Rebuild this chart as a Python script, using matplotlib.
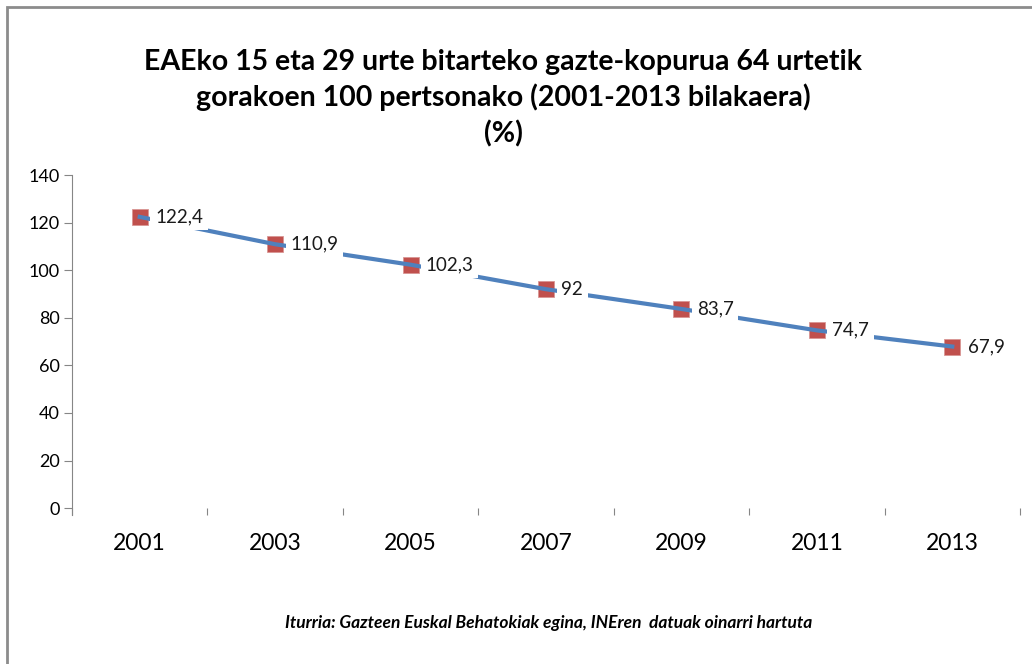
import matplotlib.pyplot as plt
from matplotlib.patches import Rectangle

urteak = ['2001', '2003', '2005', '2007', '2009', '2011', '2013']
balioak = [122.4, 110.9, 102.3, 92, 83.7, 74.7, 67.9]
etiketak = ['122,4', '110,9', '102,3', '92', '83,7', '74,7', '67,9']

plt.rcParams['font.family'] = ['Lato', 'DejaVu Sans']

fig = plt.figure(figsize=(10.32, 6.64), dpi=100)
fig.patch.set_facecolor('white')

# marco gris del grafico
fig.add_artist(Rectangle((7/1032, -0.1), 1.2, (664 - 7)/664 + 0.1, transform=fig.transFigure,
                         fill=False, edgecolor='#8c8c8c', linewidth=2))

W, H = 1032, 664
ax = fig.add_axes([72/W, 1 - 515/H, (1020 - 72)/W, (515 - 175)/H])

x = list(range(len(urteak)))
ax.plot(x, balioak, color='#4f81bd', linewidth=3, zorder=3)
ax.plot(x, balioak, linestyle='none', marker='s', markersize=11.5,
        markerfacecolor='#c0504d', markeredgecolor='#d99694', markeredgewidth=0.6, zorder=2)

for xi, yi, t in zip(x, balioak, etiketak):
    ax.annotate(t, (xi, yi), xytext=(11, 0), textcoords='offset points',
                va='center', ha='left', fontsize=13.5, color='#1a1a1a', zorder=4,
                bbox=dict(boxstyle='square,pad=0.25', facecolor='white', edgecolor='none'))

ax.set_xlim(-0.5, len(urteak) - 0.5)
ax.set_ylim(-2.9, 140)
ax.set_yticks(range(0, 141, 20))
ax.set_xticks([i + 0.5 for i in range(-1, len(urteak))])
ax.set_xticklabels([])
ax.set_xticks(x, minor=True)
ax.set_xticklabels(urteak, minor=True)

for s in ['top', 'right', 'bottom']:
    ax.spines[s].set_visible(False)
ax.spines['left'].set_color('#868686')
ax.spines['left'].set_bounds(-2.9, 140)

ax.tick_params(axis='y', direction='out', length=6, color='#868686', labelsize=13, pad=3)
ax.tick_params(axis='x', which='major', direction='in', length=5, color='#868686')
ax.tick_params(axis='x', which='minor', length=0, labelsize=16.5, pad=13)

fig.text(503/W, 1 - 98/H,
         'EAEko 15 eta 29 urte bitarteko gazte-kopurua 64 urtetik\ngorakoen 100 pertsonako (2001-2013 bilakaera)\n(%)',
         ha='center', va='center', fontsize=20.5, fontweight='bold', linespacing=1.4)

fig.text(549/W, 1 - 623/H, 'Iturria: Gazteen Euskal Behatokiak egina, INEren  datuak oinarri hartuta',
         ha='center', va='center', fontsize=12.5, fontstyle='italic', fontweight='bold')

fig.savefig('out.png', dpi=100, facecolor='white')
